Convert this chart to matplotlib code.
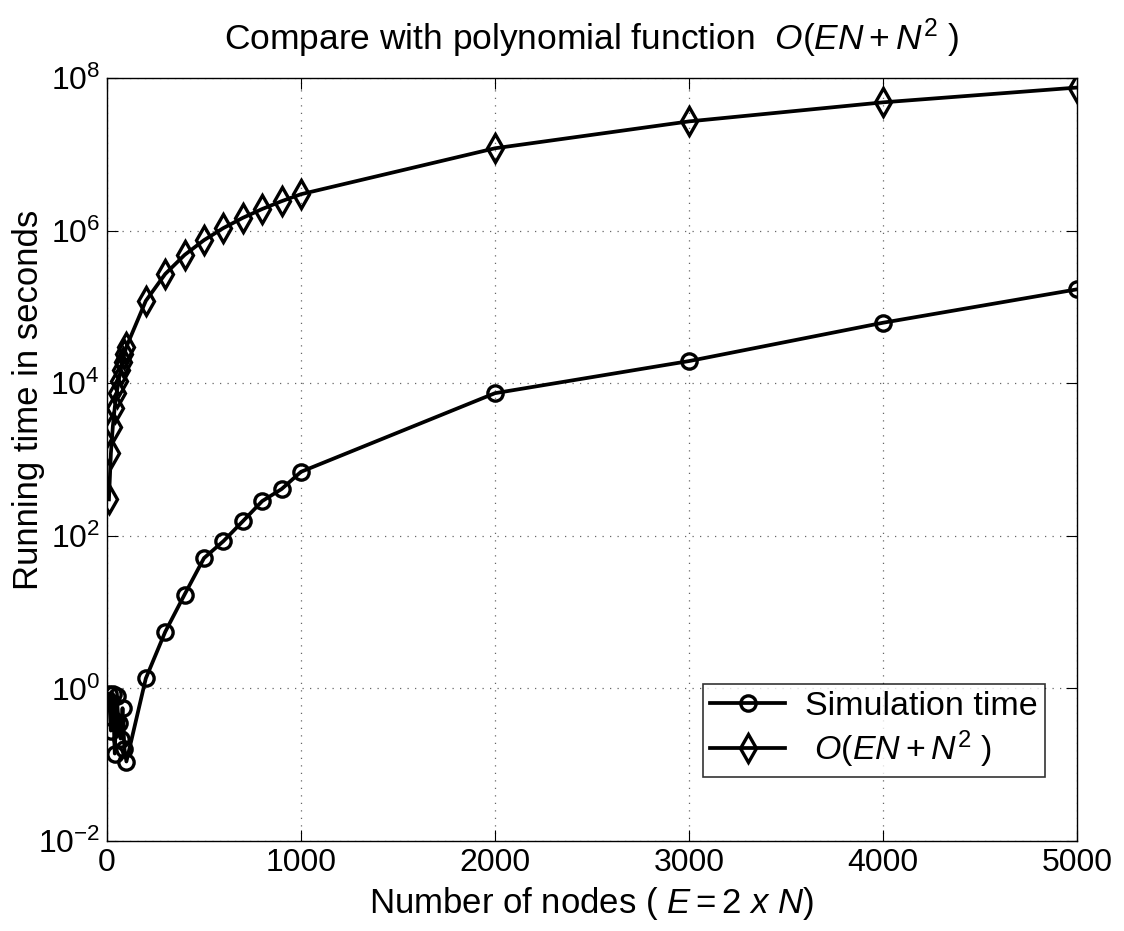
import matplotlib
matplotlib.use("Agg")
import matplotlib.pyplot as plt
from matplotlib.ticker import FixedLocator, LogFormatterSciNotation, NullLocator

plt.rcParams['font.family'] = ['Liberation Sans', 'DejaVu Sans']
plt.rcParams['mathtext.fontset'] = 'custom'
plt.rcParams['mathtext.rm'] = 'Liberation Sans'
plt.rcParams['mathtext.it'] = 'Liberation Sans:italic'
plt.rcParams['mathtext.bf'] = 'Liberation Sans:bold'

nodes = [10, 20, 30, 40, 50, 60, 70, 80, 90, 100,
         200, 300, 400, 500, 600, 700, 800, 900, 1000,
         2000, 3000, 4000, 5000]
sim_time = [0.85, 0.28, 0.85, 0.14, 0.8, 0.35, 0.22, 0.55, 0.16, 0.11,
            1.35, 5.5, 17, 51, 85, 155, 285, 410, 690,
            7400, 19500, 62000, 170000]
poly_time = [300, 1200, 2700, 4800, 7500, 10800, 14700, 19200, 24300, 30000,
             120000, 270000, 480000, 750000, 1080000, 1470000, 1920000, 2430000, 3000000,
             12000000, 27000000, 48000000, 75000000]

xticks = [0, 1000, 2000, 3000, 4000, 5000]
yticks = [1e-2, 1e0, 1e2, 1e4, 1e6, 1e8]

fig = plt.figure(figsize=(11.24, 9.31), dpi=100)
ax = fig.add_axes([0.0952, 0.0967, 0.8630, 0.8195])

ax.semilogy(nodes, sim_time, color='black', lw=2.7, marker='o', ms=11,
            mfc='none', mec='black', mew=2.4, label='Simulation time')
ax.semilogy(nodes, poly_time, color='black', lw=2.7, marker='d', ms=14,
            mfc='none', mec='black', mew=2.4, label=r' $\mathit{O(EN + N^2\ )}$')

ax.set_xlim(0, 5000)
ax.set_ylim(1e-2, 1e8)
ax.xaxis.set_major_locator(FixedLocator(xticks))
ax.yaxis.set_major_locator(FixedLocator(yticks))
ax.yaxis.set_major_formatter(LogFormatterSciNotation())
ax.yaxis.set_minor_locator(NullLocator())
ax.xaxis.set_minor_locator(NullLocator())

ax.grid(True, which='major', linestyle=(0, (1, 5)), color='black', linewidth=0.9, alpha=0.6)
ax.tick_params(direction='in', length=8, width=0.8, top=True, right=True,
               labelsize=23, pad=5)
for s in ax.spines.values():
    s.set_linewidth(1.0)

ax.set_title(r'Compare with polynomial function  $\mathit{O(EN + N^2\ )}$',
             fontsize=25.5, pad=20)
ax.set_xlabel(r'Number of nodes ( $\mathit{E = 2\ x\ N}$)', fontsize=25, labelpad=5)
ax.set_ylabel('Running time in seconds', fontsize=25)
ax.yaxis.set_label_coords(-0.064, 0.578)

leg = ax.legend(loc='lower right', bbox_to_anchor=(0.967, 0.084), fontsize=24.5,
                handlelength=2.2, frameon=True, fancybox=False, borderpad=0.2,
                labelspacing=0.2, handletextpad=0.6, borderaxespad=0)
leg.get_frame().set_edgecolor('black')
leg.get_frame().set_linewidth(1.2)

fig.savefig('out.png', dpi=100)
